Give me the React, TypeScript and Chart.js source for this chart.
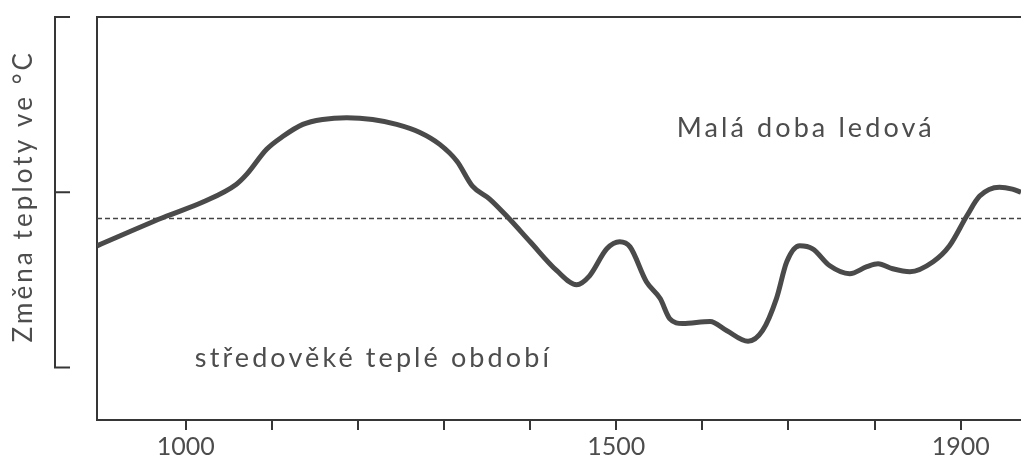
import React, { useEffect, useRef } from "react";
import { Chart, registerables } from "chart.js";

Chart.register(...registerables);

// ---- data ----
const YEARS = [
  897, 978, 1020, 1059, 1071, 1094, 1113, 1136, 1159, 1187, 1217, 1245, 1272,
  1295, 1315, 1333, 1353, 1376, 1400, 1431, 1454, 1469, 1489, 1504, 1516, 1535,
  1551, 1562, 1577, 1609, 1628, 1653, 1670, 1686, 1698, 1713, 1728, 1748, 1771,
  1791, 1804, 1821, 1841, 1868, 1887, 1907, 1922, 1945, 1960, 1970,
];
const TEMPS = [
  -0.306, -0.136, -0.056, 0.046, 0.103, 0.245, 0.319, 0.387, 0.415, 0.425,
  0.415, 0.387, 0.341, 0.273, 0.177, 0.035, -0.039, -0.153, -0.283, -0.448,
  -0.528, -0.477, -0.323, -0.283, -0.312, -0.511, -0.607, -0.721, -0.749,
  -0.738, -0.789, -0.851, -0.789, -0.607, -0.397, -0.306, -0.323, -0.42,
  -0.465, -0.425, -0.408, -0.437, -0.454, -0.397, -0.306, -0.136, -0.022,
  0.029, 0.018, 0.0,
];
const REFERENCE_LEVEL = -0.15;
const X_MIN = 897;
const X_MAX = 1970;
const Y_MIN = -1.3;
const Y_MAX = 1.0;
const TICK_YEARS = [1000, 1100, 1200, 1300, 1400, 1500, 1600, 1700, 1800, 1900];
const LABELED_YEARS = [1000, 1500, 1900];
const BRACKET_VALUES = [1, 0, -1];
const Y_TITLE = "Změna teploty ve °C";
const ANNOTATION_TEXTS = ["Malá doba ledová", "středověké teplé období"];
const ANNOTATION_YEARS = [1720, 1218];
const ANNOTATION_VALUES = [0.313, -0.995];

const FONT_FAMILY = "Lato, 'Open Sans', sans-serif";
const TEXT_COLOR = "#4d4d4d";
const LINE_COLOR = "#363636";

const decorPlugin = {
  id: "decor",
  afterDraw(chart: any) {
    const { ctx, scales } = chart;
    const y = scales.y;
    const x = scales.x;
    ctx.save();
    // bracket scale bar
    const bx = 55;
    const top = y.getPixelForValue(Math.max(...BRACKET_VALUES));
    const bottom = y.getPixelForValue(Math.min(...BRACKET_VALUES));
    ctx.strokeStyle = LINE_COLOR;
    ctx.lineWidth = 2;
    ctx.beginPath();
    ctx.moveTo(bx, top);
    ctx.lineTo(bx, bottom);
    BRACKET_VALUES.forEach((v) => {
      const py = y.getPixelForValue(v);
      ctx.moveTo(bx - 1, py);
      ctx.lineTo(bx + 15, py);
    });
    ctx.stroke();

    // y title, centred on the bracket
    ctx.fillStyle = TEXT_COLOR;
    ctx.font = `26px ${FONT_FAMILY}`;
    ctx.letterSpacing = "3.1px";
    ctx.translate(32, (top + bottom) / 2 + 4);
    ctx.rotate(-Math.PI / 2);
    ctx.textAlign = "center";
    ctx.textBaseline = "alphabetic";
    ctx.fillText(Y_TITLE, 0, 0);
    ctx.restore();

    // annotations
    ctx.save();
    ctx.fillStyle = TEXT_COLOR;
    ctx.font = `27px ${FONT_FAMILY}`;
    ctx.letterSpacing = "3.1px";
    ctx.textAlign = "center";
    ctx.textBaseline = "alphabetic";
    ANNOTATION_TEXTS.forEach((t, i) => {
      ctx.fillText(
        t,
        x.getPixelForValue(ANNOTATION_YEARS[i]),
        y.getPixelForValue(ANNOTATION_VALUES[i])
      );
    });
    ctx.restore();
  },
};

export default function App() {
  const ref = useRef<HTMLCanvasElement | null>(null);

  useEffect(() => {
    if (!ref.current) return;
    const chart = new Chart(ref.current, {
      type: "line",
      data: {
        datasets: [
          {
            data: YEARS.map((yr, i) => ({ x: yr, y: TEMPS[i] })),
            borderColor: "#4a4a4a",
            borderWidth: 5,
            pointRadius: 0,
            cubicInterpolationMode: "monotone",
            fill: false,
          },
          {
            data: [
              { x: X_MIN, y: REFERENCE_LEVEL },
              { x: X_MAX, y: REFERENCE_LEVEL },
            ],
            borderColor: "#444",
            borderWidth: 1.5,
            borderDash: [5, 3],
            pointRadius: 0,
            fill: false,
          },
        ],
      },
      options: {
        animation: false,
        responsive: false,
        events: [],
        layout: { padding: { left: 97, top: 17, right: 0, bottom: 0 } },
        plugins: {
          legend: { display: false },
          tooltip: { enabled: false },
          title: { display: false },
        },
        scales: {
          x: {
            type: "linear",
            position: "bottom",
            min: X_MIN,
            max: X_MAX,
            afterBuildTicks: (scale: any) => {
              scale.ticks = TICK_YEARS.map((v) => ({ value: v }));
            },
            border: { display: true, color: LINE_COLOR, width: 2 },
            grid: {
              drawOnChartArea: false,
              drawTicks: true,
              tickLength: 10,
              color: LINE_COLOR,
              lineWidth: 2,
            },
            ticks: {
              autoSkip: false,
              maxRotation: 0,
              padding: 2,
              color: TEXT_COLOR,
              font: { family: FONT_FAMILY, size: 25 },
              callback: (v: any) =>
                LABELED_YEARS.includes(Number(v)) ? String(v) : "",
            },
          },
          x2: {
            type: "linear",
            position: "top",
            min: X_MIN,
            max: X_MAX,
            border: { display: true, color: LINE_COLOR, width: 2 },
            grid: { display: false, drawTicks: false },
            ticks: { display: false },
          },
          y: {
            type: "linear",
            position: "left",
            min: Y_MIN,
            max: Y_MAX,
            border: { display: true, color: LINE_COLOR, width: 2 },
            grid: { drawOnChartArea: false, drawTicks: false },
            ticks: { display: false },
          },
        },
      },
      plugins: [decorPlugin],
    } as any);
    return () => chart.destroy();
  }, []);

  return (
    <div
      style={{
        position: "fixed",
        left: 0,
        top: 0,
        width: 1021,
        height: 464,
        overflow: "hidden",
        background: "#fff",
      }}
    >
      <canvas
        ref={ref}
        width={1021}
        height={464}
        style={{ width: 1021, height: 464, display: "block" }}
      />
    </div>
  );
}
